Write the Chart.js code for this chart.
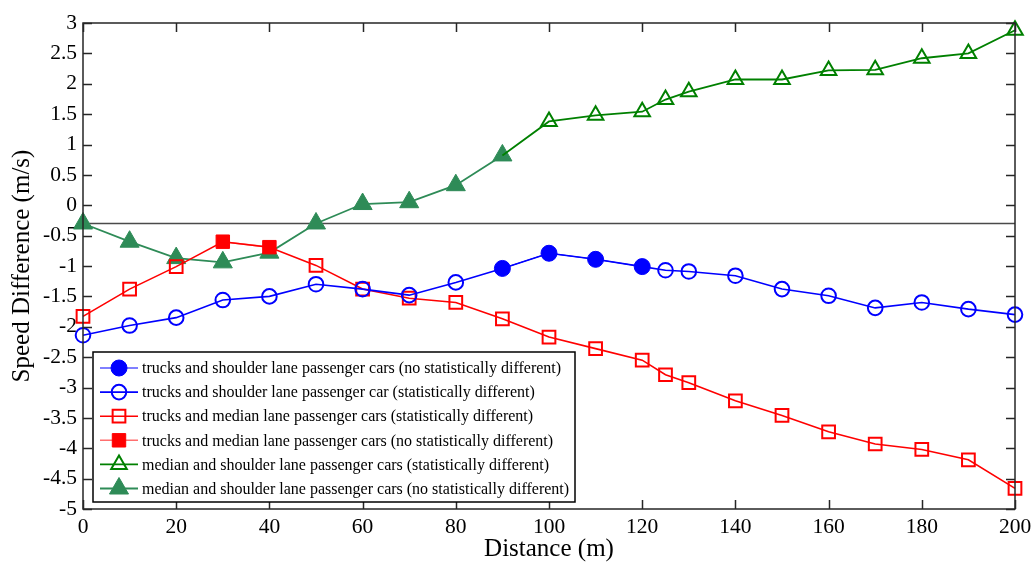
<!DOCTYPE html>
<html>
<head>
<meta charset="utf-8">
<script src="https://cdn.jsdelivr.net/npm/chart.js@4.4.0/dist/chart.umd.min.js"></script>
<style>
  body { margin: 0; background: #fff; }
  #wrap { width: 1031px; height: 562px; }
</style>
</head>
<body>
<div id="wrap"><canvas id="grafica"></canvas></div>
<script>
// distance from the start (m)
const distances = [0, 10, 20, 30, 40, 50, 60, 70, 80, 90, 100, 110, 120, 125, 130, 140, 150, 160, 170, 180, 190, 200];

// speed differences (m/s)
const truckShoulder = [-2.14, -1.98, -1.85, -1.56, -1.50, -1.30, -1.38, -1.48, -1.27, -1.04, -0.79, -0.89, -1.01, -1.07, -1.09, -1.16, -1.38, -1.49, -1.69, -1.60, -1.71, -1.80];
const truckMedian = [-1.83, -1.38, -1.01, -0.60, -0.69, -0.99, -1.38, -1.53, -1.60, -1.87, -2.17, -2.36, -2.55, -2.79, -2.92, -3.22, -3.46, -3.73, -3.93, -4.02, -4.19, -4.66];
const medianShoulder = [-0.30, -0.60, -0.87, -0.94, -0.78, -0.30, 0.02, 0.05, 0.33, 0.82, 1.38, 1.48, 1.54, 1.74, 1.87, 2.07, 2.07, 2.22, 2.23, 2.42, 2.50, 2.88];

// distances where the difference is not statistically significant
const nsTruckShoulder = [90, 100, 110, 120];
const nsTruckMedian = [30, 40];
const nsMedianShoulder = [0, 10, 20, 30, 40, 50, 60, 70, 80, 90];

const refLine = -0.3;

const labels = [
  "trucks and shoulder lane passenger cars (no statistically different)",
  "trucks and shoulder lane passenger car (statistically different)",
  "trucks and median lane passenger cars (statistically different)",
  "trucks and median lane passenger cars (no statistically different)",
  "median and shoulder lane passenger cars (statistically different)",
  "median and shoulder lane passenger cars (no statistically different)"
];

const SERIF = "'Liberation Serif', 'Times New Roman', serif";
const clear = "rgba(0,0,0,0)";

function puntos(vals) {
  return distances.map((d, i) => ({ x: d, y: vals[i] }));
}

function radio(ns, r) {
  return c => ns.includes(c.raw.x) ? 0 : r;
}

const lastNs = Math.max(...nsMedianShoulder);

const datasets = [
  {
    label: labels[0],
    data: puntos(truckShoulder).filter(p => nsTruckShoulder.includes(p.x)),
    borderColor: "#0000ff", borderWidth: 1,
    pointStyle: "circle", pointRadius: 8, pointBorderWidth: 1,
    pointBackgroundColor: "#0000ff", pointBorderColor: "#0000ff"
  },
  {
    label: labels[1],
    data: puntos(truckShoulder),
    borderColor: "#0000ff", borderWidth: 1.6,
    pointStyle: "circle", pointRadius: radio(nsTruckShoulder, 7.3), pointBorderWidth: 2,
    pointBackgroundColor: clear, pointBorderColor: "#0000ff"
  },
  {
    label: labels[2],
    data: puntos(truckMedian),
    borderColor: "#ff0000", borderWidth: 1.6,
    pointStyle: "rect", pointRadius: radio(nsTruckMedian, 9), pointBorderWidth: 2,
    pointBackgroundColor: clear, pointBorderColor: "#ff0000"
  },
  {
    label: labels[3],
    data: puntos(truckMedian).filter(p => nsTruckMedian.includes(p.x)),
    borderColor: "#ff6f6f", borderWidth: 1.6,
    pointStyle: "rect", pointRadius: 9.5, pointBorderWidth: 1,
    pointBackgroundColor: "#ff0000", pointBorderColor: "#ff0000"
  },
  {
    label: labels[4],
    data: puntos(medianShoulder).filter(p => p.x >= lastNs),
    borderColor: "#008000", borderWidth: 1.8,
    pointStyle: "triangle", pointRadius: radio(nsMedianShoulder, 9), pointBorderWidth: 2,
    pointBackgroundColor: clear, pointBorderColor: "#008000"
  },
  {
    label: labels[5],
    data: puntos(medianShoulder).filter(p => nsMedianShoulder.includes(p.x)),
    borderColor: "#2e8b57", borderWidth: 1.8,
    pointStyle: "triangle", pointRadius: 11, pointBorderWidth: 1,
    pointBackgroundColor: "#2e8b57", pointBorderColor: "#2e8b57"
  },
  {
    label: "ref",
    data: [{ x: 0, y: refLine }, { x: 200, y: refLine }],
    borderColor: "#4a4a4a", borderWidth: 1.5, pointRadius: 0
  }
];
datasets.forEach(d => { d.clip = false; d.tension = 0; });

// box, inner ticks and the legend, MATLAB style
const marco = {
  id: "marco",
  afterDatasetsDraw(chart) {
    const { ctx, chartArea: a, scales } = chart;
    ctx.save();
    ctx.strokeStyle = "#262626";
    ctx.lineWidth = 1.5;
    ctx.strokeRect(a.left, a.top, a.right - a.left, a.bottom - a.top);
    const len = 9;
    ctx.beginPath();
    scales.x.ticks.forEach(t => {
      const px = Math.round(scales.x.getPixelForValue(t.value)) + 0.5;
      ctx.moveTo(px, a.bottom); ctx.lineTo(px, a.bottom - len);
      ctx.moveTo(px, a.top); ctx.lineTo(px, a.top + len);
    });
    scales.y.ticks.forEach(t => {
      const py = Math.round(scales.y.getPixelForValue(t.value)) + 0.5;
      ctx.moveTo(a.left, py); ctx.lineTo(a.left + len, py);
      ctx.moveTo(a.right, py); ctx.lineTo(a.right - len, py);
    });
    ctx.stroke();

    // legend
    const bx = 93, by = 352, bw = 482, bh = 150;
    ctx.fillStyle = "#fff";
    ctx.fillRect(bx, by, bw, bh);
    ctx.strokeStyle = "#000";
    ctx.lineWidth = 1.5;
    ctx.strokeRect(bx, by, bw, bh);
    ctx.font = "16px " + SERIF;
    ctx.textBaseline = "middle";
    chart.data.datasets.slice(0, 6).forEach((d, i) => {
      const y = by + 16 + i * 24.1;
      ctx.strokeStyle = d.borderColor;
      ctx.lineWidth = d.borderWidth;
      ctx.beginPath();
      ctx.moveTo(bx + 7, y); ctx.lineTo(bx + 45, y);
      ctx.stroke();
      const r = typeof d.pointRadius === "function" ? ({ circle: 7.3, rect: 9, triangle: 9 })[d.pointStyle] : d.pointRadius;
      ctx.fillStyle = d.pointBackgroundColor;
      ctx.strokeStyle = d.pointBorderColor;
      ctx.lineWidth = d.pointBorderWidth;
      Chart.helpers.drawPoint(ctx, { pointStyle: d.pointStyle, radius: r, borderWidth: d.pointBorderWidth, rotation: 0 }, bx + 26, y);
      ctx.fillStyle = "#000";
      ctx.fillText(d.label, bx + 49, y + 1);
    });
    ctx.restore();
  }
};

new Chart(document.getElementById("grafica"), {
  type: "line",
  data: { datasets },
  options: {
    responsive: true,
    maintainAspectRatio: false,
    animation: false,
    events: [],
    layout: { padding: { top: 23, right: 16, left: 0, bottom: 0 } },
    plugins: { legend: { display: false }, tooltip: { enabled: false } },
    scales: {
      x: {
        type: "linear", min: 0, max: 200,
        afterFit: s => { s.height = 53; s.paddingLeft = 0; s.paddingRight = 0; },
        ticks: { stepSize: 20, color: "#000", padding: 5, maxRotation: 0, font: { family: SERIF, size: 21.5 } },
        grid: { drawOnChartArea: false, drawTicks: false },
        border: { display: false },
        title: { display: true, text: "Distance (m)", color: "#000", padding: 0, font: { family: SERIF, size: 25, lineHeight: 1 } }
      },
      y: {
        min: -5, max: 3,
        afterFit: s => { s.width = 83; s.paddingTop = 0; s.paddingBottom = 0; },
        ticks: { stepSize: 0.5, color: "#000", padding: 6, font: { family: SERIF, size: 21.5 }, callback: v => String(v) },
        grid: { drawOnChartArea: false, drawTicks: false },
        border: { display: false },
        title: { display: true, text: "Speed Difference (m/s)", color: "#000", padding: { top: 10, bottom: 0 }, font: { family: SERIF, size: 25, lineHeight: 1 } }
      }
    }
  },
  plugins: [marco]
});
</script>
</body>
</html>
